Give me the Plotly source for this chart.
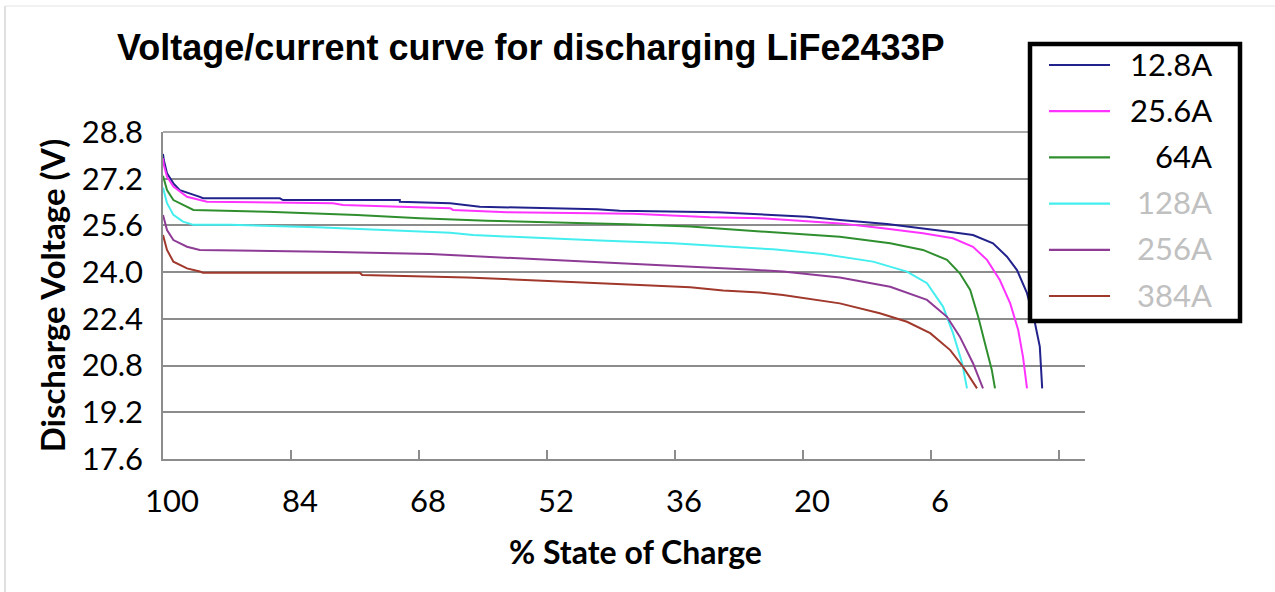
import plotly.graph_objects as go

# ---------------- data ----------------
series_names = ["12.8A", "25.6A", "64A", "128A", "256A", "384A"]
series_colors = ["#22228c", "#ff33ff", "#2f8f2f", "#44eeee", "#8e3b96", "#a0382c"]
legend_text_colors = ["#000000", "#000000", "#000000", "#c0c0c0", "#c0c0c0", "#c0c0c0"]

soc_128 = [100.0, 99.9, 99.5, 98.7, 97.9, 96.6, 95.4, 95.0, 85.4, 85.0, 70.4, 70.4, 64.1,
           60.4, 45.75, 42.9, 30.75, 23.9, 19.5, 15.4, 9.5, 2.0, -1.25, -3.75, -5.5,
           -6.75, -8.0, -9.0, -9.6, -9.9]
v_128 = [28.05, 27.84, 27.39, 27.04, 26.81, 26.70, 26.58, 26.53, 26.53, 26.47, 26.47, 26.41, 26.36,
         26.24, 26.15, 26.10, 26.05, 25.96, 25.90, 25.79, 25.65, 25.39, 25.27, 24.99, 24.53,
         24.07, 23.28, 22.25, 21.45, 20.02]

soc_256 = [100.0, 99.9, 99.5, 98.7, 97.0, 94.5, 78.75, 77.5, 70.4, 64.1, 63.75, 57.0, 41.25,
           31.6, 25.4, 19.5, 15.4, 10.0, 5.0, 1.25, -1.25, -3.0, -4.6, -5.9, -6.9, -7.5, -8.0]
v_256 = [27.9, 27.67, 27.27, 26.93, 26.58, 26.41, 26.36, 26.30, 26.24, 26.19, 26.13, 26.05, 26.00,
         25.88, 25.85, 25.73, 25.67, 25.50, 25.33, 25.16, 24.87, 24.42, 23.73, 22.93, 22.02, 21.10, 20.02]

soc_64 = [100.0, 99.5, 98.7, 97.5, 96.2, 87.0, 75.75, 67.9, 59.5, 49.5, 42.0, 34.1, 27.9,
          22.9, 15.4, 9.1, 5.0, 2.0, 0.4, -0.9, -1.9, -2.75, -3.6, -4.0]
v_64 = [27.3, 26.81, 26.47, 26.30, 26.13, 26.07, 25.96, 25.85, 25.76, 25.69, 25.64, 25.56, 25.44,
        25.35, 25.21, 24.99, 24.76, 24.42, 23.96, 23.39, 22.47, 21.56, 20.65, 20.02]

soc_128a = [100.0, 99.5, 98.7, 97.5, 96.2, 91.6, 80.75, 70.75, 64.1, 61.25, 52.9, 45.4, 36.25,
            27.9, 23.75, 17.5, 11.25, 7.0, 4.5, 2.5, 1.25, 0.1, -0.5]
v_128a = [26.9, 26.36, 25.96, 25.73, 25.62, 25.62, 25.54, 25.44, 25.35, 25.27, 25.16, 25.08, 24.99,
          24.85, 24.78, 24.62, 24.36, 24.02, 23.62, 22.82, 21.91, 20.88, 20.02]

soc_256a = [100.0, 99.5, 98.7, 97.0, 95.4, 80.0, 66.6, 57.5, 48.75, 41.25, 36.25, 30.0, 26.25,
            22.5, 15.4, 9.1, 4.5, 2.0, 0.4, -1.25, -2.5]
v_256a = [25.96, 25.44, 25.10, 24.87, 24.76, 24.70, 24.62, 24.50, 24.39, 24.30, 24.22, 24.15, 24.08,
          24.02, 23.82, 23.50, 23.05, 22.47, 21.79, 20.88, 20.02]

soc_384 = [100.0, 99.5, 98.7, 97.0, 95.4, 95.0, 75.4, 75.1, 62.0, 52.9, 46.25, 40.4, 34.1, 30.0,
           25.4, 22.5, 15.4, 10.4, 7.0, 4.1, 1.6, 0.0, -1.75]
v_384 = [25.27, 24.76, 24.36, 24.13, 24.02, 23.98, 23.98, 23.90, 23.82, 23.70, 23.62, 23.56, 23.48,
         23.37, 23.30, 23.22, 22.93, 22.59, 22.30, 21.91, 21.33, 20.76, 20.02]

series_x = [soc_128, soc_256, soc_64, soc_128a, soc_256a, soc_384]
series_y = [v_128, v_256, v_64, v_128a, v_256a, v_384]

x_tick_vals = [100, 84, 68, 52, 36, 20, 4, -12]
x_tick_text = ["100", "84", "68", "52", "36", "20", "6", ""]
y_tick_vals = [17.6, 19.2, 20.8, 22.4, 24.0, 25.6, 27.2, 28.8]

# ---------------- figure ----------------
W, H = 1275, 592
PL, PR, PT, PB = 163, 1085, 132, 459  # plot area in pixels


def px_x(p):
    return (p - PL) / (PR - PL)


def px_y(p):
    return (PB - p) / (PB - PT)


fig = go.Figure()
for name, col, xs, ys in zip(series_names, series_colors, series_x, series_y):
    fig.add_trace(go.Scatter(x=xs, y=ys, mode="lines", name=name,
                             line=dict(color=col, width=2), showlegend=False))

grid_col = "#8c8c8c"
fig.update_layout(
    width=W, height=H,
    margin=dict(l=PL, r=W - PR, t=PT, b=H - PB, pad=0),
    paper_bgcolor="white", plot_bgcolor="white",
    font=dict(family="Lato", size=31, color="black"),
    title=dict(text="<b>Voltage/current curve for discharging LiFe2433P</b>",
               font=dict(family="Liberation Sans", size=36, color="black"),
               x=117 / W, xanchor="left", xref="container",
               y=1 - 47 / H, yanchor="middle", yref="container"),
    xaxis=dict(range=[100, -15.25], tickmode="array", tickvals=x_tick_vals, ticktext=x_tick_text,
               ticks="inside", ticklen=9, tickwidth=1.5, tickcolor=grid_col,
               showline=True, linecolor=grid_col, linewidth=1.5,
               showgrid=False, zeroline=False, ticklabelstandoff=14, ticklabelshift=-9,
               tickfont=dict(family="Lato", size=31, color="black")),
    yaxis=dict(range=[17.6, 28.8], tickmode="array", tickvals=y_tick_vals, tickformat=".1f",
               ticks="", showline=True, linecolor=grid_col, linewidth=1.5,
               showgrid=True, gridcolor=grid_col, gridwidth=1.5, zeroline=False,
               ticklabelstandoff=12,
               tickfont=dict(family="Lato", size=31, color="black"),
               title=dict(text="<b>Discharge Voltage (V)</b>", standoff=6,
                          font=dict(family="Lato", size=33, color="black"))),
)

shapes = [
    # top gridline (28.8)
    dict(type="line", xref="paper", yref="paper", x0=0, x1=1, y0=1, y1=1,
         line=dict(color=grid_col, width=1.5), layer="below"),
    # faint outer frame (left / top)
    dict(type="line", xref="paper", yref="paper", x0=px_x(5), x1=px_x(5), y0=px_y(592), y1=px_y(6),
         line=dict(color="#d6d6d6", width=1.5)),
    dict(type="line", xref="paper", yref="paper", x0=px_x(5), x1=px_x(1275), y0=px_y(6), y1=px_y(6),
         line=dict(color="#e4e4e4", width=1)),
    # legend box
    dict(type="rect", xref="paper", yref="paper", x0=px_x(1030), x1=px_x(1240),
         y0=px_y(321), y1=px_y(44), fillcolor="white", line=dict(color="black", width=4.5),
         layer="above"),
]
annotations = [
    # x-axis title
    dict(xref="paper", yref="paper", x=px_x(635), y=px_y(551), text="<b>% State of Charge</b>",
         showarrow=False, xanchor="center", yanchor="middle",
         font=dict(family="Lato", size=32, color="black")),
]
for i, (name, col, tcol) in enumerate(zip(series_names, series_colors, legend_text_colors)):
    yy = px_y(65 + 46.2 * i)
    shapes.append(dict(type="line", xref="paper", yref="paper", x0=px_x(1049), x1=px_x(1110),
                       y0=yy, y1=yy, line=dict(color=col, width=2.2), layer="above"))
    annotations.append(dict(xref="paper", yref="paper", x=px_x(1214), y=yy + 0.004, text=name,
                            showarrow=False, xanchor="right", yanchor="middle",
                            font=dict(family="Lato", size=31, color=tcol)))
fig.update_layout(shapes=shapes, annotations=annotations)

fig.write_html("out.html", config={"displayModeBar": False},
               post_script="document.body.style.margin='0';")
